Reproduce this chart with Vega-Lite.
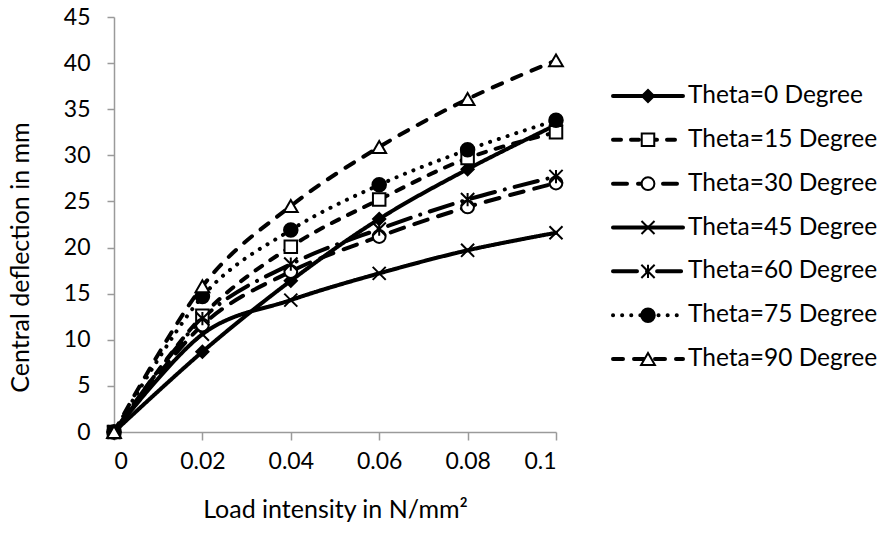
{
  "$schema": "https://vega.github.io/schema/vega-lite/v6.json",
  "background": "white",
  "padding": {"left": 8, "top": 6, "right": 5, "bottom": 5},
  "config": {
    "view": {"stroke": null},
    "font": "Lato",
    "axis": {"domainColor": "#9a9a9a", "tickColor": "#9a9a9a", "domainWidth": 1.5, "tickWidth": 1.5, "labelColor": "black", "titleColor": "black", "labelFontSize": 23, "titleFontSize": 25, "titleFontWeight": "normal", "grid": false, "labelFont": "Lato", "titleFont": "Lato"}
  },
  "datasets": {
    "curves": [
      {"series": "Theta=0 Degree", "load": 0, "deflection": 0},
      {"series": "Theta=0 Degree", "load": 0.02, "deflection": 8.7},
      {"series": "Theta=0 Degree", "load": 0.04, "deflection": 16.4},
      {"series": "Theta=0 Degree", "load": 0.06, "deflection": 23.1},
      {"series": "Theta=0 Degree", "load": 0.08, "deflection": 28.5},
      {"series": "Theta=0 Degree", "load": 0.1, "deflection": 33.3},
      {"series": " Theta=15 Degree", "load": 0, "deflection": 0},
      {"series": " Theta=15 Degree", "load": 0.02, "deflection": 12.6},
      {"series": " Theta=15 Degree", "load": 0.04, "deflection": 20.1},
      {"series": " Theta=15 Degree", "load": 0.06, "deflection": 25.2},
      {"series": " Theta=15 Degree", "load": 0.08, "deflection": 29.7},
      {"series": " Theta=15 Degree", "load": 0.1, "deflection": 32.5},
      {"series": "Theta=30 Degree", "load": 0, "deflection": 0},
      {"series": "Theta=30 Degree", "load": 0.02, "deflection": 11.6},
      {"series": "Theta=30 Degree", "load": 0.04, "deflection": 17.4},
      {"series": "Theta=30 Degree", "load": 0.06, "deflection": 21.2},
      {"series": "Theta=30 Degree", "load": 0.08, "deflection": 24.4},
      {"series": "Theta=30 Degree", "load": 0.1, "deflection": 27.0},
      {"series": "Theta=45 Degree", "load": 0, "deflection": 0},
      {"series": "Theta=45 Degree", "load": 0.02, "deflection": 10.6},
      {"series": "Theta=45 Degree", "load": 0.04, "deflection": 14.3},
      {"series": "Theta=45 Degree", "load": 0.06, "deflection": 17.2},
      {"series": "Theta=45 Degree", "load": 0.08, "deflection": 19.7},
      {"series": "Theta=45 Degree", "load": 0.1, "deflection": 21.6},
      {"series": "Theta=60 Degree", "load": 0, "deflection": 0},
      {"series": "Theta=60 Degree", "load": 0.02, "deflection": 12.3},
      {"series": "Theta=60 Degree", "load": 0.04, "deflection": 18.2},
      {"series": "Theta=60 Degree", "load": 0.06, "deflection": 22.0},
      {"series": "Theta=60 Degree", "load": 0.08, "deflection": 25.2},
      {"series": "Theta=60 Degree", "load": 0.1, "deflection": 27.7},
      {"series": "Theta=75 Degree", "load": 0, "deflection": 0},
      {"series": "Theta=75 Degree", "load": 0.02, "deflection": 14.7},
      {"series": "Theta=75 Degree", "load": 0.04, "deflection": 21.9},
      {"series": "Theta=75 Degree", "load": 0.06, "deflection": 26.8},
      {"series": "Theta=75 Degree", "load": 0.08, "deflection": 30.6},
      {"series": "Theta=75 Degree", "load": 0.1, "deflection": 33.8},
      {"series": "Theta=90 Degree", "load": 0, "deflection": 0},
      {"series": "Theta=90 Degree", "load": 0.02, "deflection": 15.8},
      {"series": "Theta=90 Degree", "load": 0.04, "deflection": 24.5},
      {"series": "Theta=90 Degree", "load": 0.06, "deflection": 30.9},
      {"series": "Theta=90 Degree", "load": 0.08, "deflection": 36.1},
      {"series": "Theta=90 Degree", "load": 0.1, "deflection": 40.3}
    ]
  },
  "hconcat": [
    {
      "width": 442,
      "height": 415,
      "data": {"name": "curves"},
      "layer": [
        {
          "mark": {"type": "line", "interpolate": "cardinal", "strokeWidth": 4, "color": "black", "strokeCap": "round"},
          "encoding": {
            "x": {"field": "load", "type": "quantitative", "scale": {"domain": [0, 0.1], "nice": false}, "axis": {"values": [0, 0.02, 0.04, 0.06, 0.08, 0.1], "labelExpr": "format(datum.value, '~g')", "tickSize": 8, "labelPadding": 10, "title": "Load intensity in N/mm²", "titlePadding": 24}},
            "y": {"field": "deflection", "type": "quantitative", "scale": {"domain": [0, 45], "nice": false}, "axis": {"values": [0, 5, 10, 15, 20, 25, 30, 35, 40, 45], "tickSize": 7, "labelPadding": 17, "title": "Central deflection in mm", "titlePadding": 30, "titleY": 240}},
            "detail": {"field": "series", "type": "nominal"},
            "strokeDash": {"field": "series", "type": "nominal", "legend": null,
              "scale": {"domain": ["Theta=0 Degree", " Theta=15 Degree", "Theta=30 Degree", "Theta=45 Degree", "Theta=60 Degree", "Theta=75 Degree", "Theta=90 Degree"],
                "range": [[1, 0], [8, 10], [14, 11], [1, 0], [24, 10, 0.1, 10], [0.1, 9], [10, 11]]}}
          }
        },
        {
          "mark": {"type": "point", "filled": true, "stroke": "black", "strokeWidth": 2, "opacity": 1},
          "encoding": {
            "x": {"field": "load", "type": "quantitative"},
            "y": {"field": "deflection", "type": "quantitative"},
            "shape": {"field": "series", "type": "nominal", "legend": null,
              "scale": {"domain": ["Theta=0 Degree", " Theta=15 Degree", "Theta=30 Degree", "Theta=45 Degree", "Theta=60 Degree", "Theta=75 Degree", "Theta=90 Degree"],
                "range": ["diamond", "square", "circle", "M-1,-1L1,1M-1,1L1,-1", "M-1,-1L1,1M-1,1L1,-1M0,-1L0,1", "circle", "triangle-up"]}},
            "fill": {"field": "series", "type": "nominal", "legend": null,
              "scale": {"domain": ["Theta=0 Degree", " Theta=15 Degree", "Theta=30 Degree", "Theta=45 Degree", "Theta=60 Degree", "Theta=75 Degree", "Theta=90 Degree"],
                "range": ["black", "white", "white", "transparent", "transparent", "black", "white"]}},
            "size": {"field": "series", "type": "nominal", "legend": null,
              "scale": {"domain": ["Theta=0 Degree", " Theta=15 Degree", "Theta=30 Degree", "Theta=45 Degree", "Theta=60 Degree", "Theta=75 Degree", "Theta=90 Degree"],
                "range": [150, 190, 240, 340, 240, 330, 230]}}
          }
        }
      ]
    },
    {
      "width": 70,
      "height": 415,
      "data": {"name": "curves"},
      "transform": [{"filter": "datum.load == 0"}],
      "encoding": {
        "y": {"field": "series", "type": "nominal", "sort": null, "axis": null,
          "scale": {"type": "point", "domain": ["Theta=0 Degree", " Theta=15 Degree", "Theta=30 Degree", "Theta=45 Degree", "Theta=60 Degree", "Theta=75 Degree", "Theta=90 Degree"], "padding": 0, "range": [79, 342]}}
      },
      "layer": [
        {
          "mark": {"type": "rule", "strokeWidth": 4, "color": "black", "strokeCap": "round"},
          "encoding": {
            "x": {"datum": 0, "type": "quantitative", "scale": {"domain": [0, 1]}, "axis": null},
            "x2": {"datum": 1},
            "strokeDash": {"field": "series", "type": "nominal", "legend": null,
              "scale": {"domain": ["Theta=0 Degree", " Theta=15 Degree", "Theta=30 Degree", "Theta=45 Degree", "Theta=60 Degree", "Theta=75 Degree", "Theta=90 Degree"],
                "range": [[1, 0], [8, 10], [14, 11], [1, 0], [24, 10, 0.1, 10], [0.1, 9], [10, 11]]}}
          }
        },
        {
          "mark": {"type": "point", "filled": true, "stroke": "black", "strokeWidth": 2, "opacity": 1},
          "encoding": {
            "x": {"datum": 0.5, "type": "quantitative"},
            "shape": {"field": "series", "type": "nominal", "legend": null,
              "scale": {"domain": ["Theta=0 Degree", " Theta=15 Degree", "Theta=30 Degree", "Theta=45 Degree", "Theta=60 Degree", "Theta=75 Degree", "Theta=90 Degree"],
                "range": ["diamond", "square", "circle", "M-1,-1L1,1M-1,1L1,-1", "M-1,-1L1,1M-1,1L1,-1M0,-1L0,1", "circle", "triangle-up"]}},
            "fill": {"field": "series", "type": "nominal", "legend": null,
              "scale": {"domain": ["Theta=0 Degree", " Theta=15 Degree", "Theta=30 Degree", "Theta=45 Degree", "Theta=60 Degree", "Theta=75 Degree", "Theta=90 Degree"],
                "range": ["black", "white", "white", "transparent", "transparent", "black", "white"]}},
            "size": {"field": "series", "type": "nominal", "legend": null,
              "scale": {"domain": ["Theta=0 Degree", " Theta=15 Degree", "Theta=30 Degree", "Theta=45 Degree", "Theta=60 Degree", "Theta=75 Degree", "Theta=90 Degree"],
                "range": [150, 190, 240, 340, 240, 330, 230]}}
          }
        },
        {
          "mark": {"type": "text", "align": "left", "baseline": "middle", "dx": 5, "fontSize": 24.5, "font": "Lato", "color": "black"},
          "encoding": {
            "x": {"datum": 1, "type": "quantitative"},
            "text": {"field": "series"}
          }
        }
      ]
    }
  ],
  "spacing": 44
}
